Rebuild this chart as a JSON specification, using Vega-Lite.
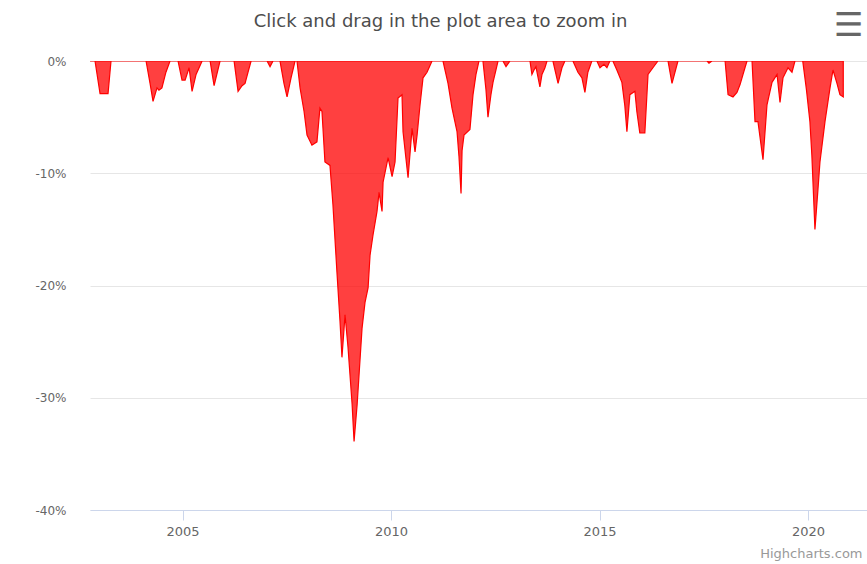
{
  "$schema": "https://vega.github.io/schema/vega-lite/v6.json",
  "width": 777,
  "height": 449,
  "autosize": {"type": "none"},
  "padding": {"left": 90, "right": 0, "top": 61, "bottom": 54},
  "background": "#ffffff",
  "title": {
    "text": "Click and drag in the plot area to zoom in",
    "font": "DejaVu Sans",
    "fontSize": 18,
    "fontWeight": "normal",
    "color": "#4d4d4d",
    "anchor": "middle",
    "baseline": "middle",
    "dx": -38,
    "offset": 0,
    "dy": 31
  },
  "config": {
    "view": {"stroke": null},
    "font": "DejaVu Sans"
  },
  "data": {
    "values": [
      {"date": "2002-10-13", "dd": 0},
      {"date": "2002-11-26", "dd": 0},
      {"date": "2003-01-09", "dd": -2.9},
      {"date": "2003-03-20", "dd": -2.9},
      {"date": "2003-04-15", "dd": 0},
      {"date": "2004-02-16", "dd": 0},
      {"date": "2004-03-22", "dd": -2.0},
      {"date": "2004-04-17", "dd": -3.6},
      {"date": "2004-05-22", "dd": -2.4},
      {"date": "2004-06-08", "dd": -2.6},
      {"date": "2004-07-04", "dd": -2.4},
      {"date": "2004-08-08", "dd": -1.0},
      {"date": "2004-09-13", "dd": 0},
      {"date": "2004-11-22", "dd": 0},
      {"date": "2004-12-27", "dd": -1.7},
      {"date": "2005-01-23", "dd": -1.7},
      {"date": "2005-02-27", "dd": -0.6},
      {"date": "2005-03-25", "dd": -2.7},
      {"date": "2005-04-29", "dd": -1.2},
      {"date": "2005-06-21", "dd": 0},
      {"date": "2005-08-30", "dd": 0},
      {"date": "2005-10-04", "dd": -2.2},
      {"date": "2005-11-25", "dd": 0},
      {"date": "2006-03-28", "dd": 0},
      {"date": "2006-05-02", "dd": -2.7},
      {"date": "2006-06-06", "dd": -2.2},
      {"date": "2006-07-02", "dd": -2.0},
      {"date": "2006-07-28", "dd": -1.0},
      {"date": "2006-08-24", "dd": 0},
      {"date": "2007-01-11", "dd": 0},
      {"date": "2007-02-06", "dd": -0.5},
      {"date": "2007-03-04", "dd": 0},
      {"date": "2007-05-04", "dd": 0},
      {"date": "2007-06-08", "dd": -2.0},
      {"date": "2007-07-05", "dd": -3.2},
      {"date": "2007-08-09", "dd": -1.5},
      {"date": "2007-09-13", "dd": 0},
      {"date": "2007-09-30", "dd": 0},
      {"date": "2007-10-27", "dd": -2.4},
      {"date": "2007-12-01", "dd": -4.5},
      {"date": "2007-12-27", "dd": -6.6},
      {"date": "2008-02-08", "dd": -7.5},
      {"date": "2008-03-23", "dd": -7.2},
      {"date": "2008-04-18", "dd": -4.2},
      {"date": "2008-05-06", "dd": -4.5},
      {"date": "2008-06-01", "dd": -9.0},
      {"date": "2008-07-15", "dd": -9.3},
      {"date": "2008-08-10", "dd": -12.8},
      {"date": "2008-09-14", "dd": -18.8},
      {"date": "2008-10-11", "dd": -23.2},
      {"date": "2008-10-28", "dd": -26.4},
      {"date": "2008-11-24", "dd": -22.6},
      {"date": "2008-12-20", "dd": -25.5},
      {"date": "2009-01-25", "dd": -30.6},
      {"date": "2009-02-11", "dd": -33.9},
      {"date": "2009-03-10", "dd": -30.6},
      {"date": "2009-04-22", "dd": -23.8},
      {"date": "2009-05-18", "dd": -21.5},
      {"date": "2009-06-14", "dd": -20.2},
      {"date": "2009-07-01", "dd": -17.3},
      {"date": "2009-07-27", "dd": -15.5},
      {"date": "2009-08-31", "dd": -13.4},
      {"date": "2009-09-18", "dd": -11.7},
      {"date": "2009-10-14", "dd": -13.4},
      {"date": "2009-10-23", "dd": -10.8},
      {"date": "2009-12-06", "dd": -8.6},
      {"date": "2010-01-10", "dd": -10.3},
      {"date": "2010-02-05", "dd": -9.0},
      {"date": "2010-03-03", "dd": -3.3},
      {"date": "2010-04-07", "dd": -3.0},
      {"date": "2010-04-16", "dd": -6.3},
      {"date": "2010-05-30", "dd": -10.4},
      {"date": "2010-07-04", "dd": -6.0},
      {"date": "2010-07-30", "dd": -8.1},
      {"date": "2010-08-17", "dd": -6.6},
      {"date": "2010-09-12", "dd": -3.9},
      {"date": "2010-10-08", "dd": -1.5},
      {"date": "2010-11-12", "dd": -1.0},
      {"date": "2010-12-26", "dd": 0},
      {"date": "2011-04-01", "dd": 0},
      {"date": "2011-05-15", "dd": -2.0},
      {"date": "2011-06-19", "dd": -4.2},
      {"date": "2011-08-02", "dd": -6.3},
      {"date": "2011-08-19", "dd": -8.5},
      {"date": "2011-09-06", "dd": -11.8},
      {"date": "2011-09-15", "dd": -8.0},
      {"date": "2011-10-02", "dd": -6.6},
      {"date": "2011-11-23", "dd": -6.1},
      {"date": "2011-12-20", "dd": -3.0},
      {"date": "2012-01-15", "dd": -1.2},
      {"date": "2012-02-10", "dd": 0},
      {"date": "2012-03-16", "dd": 0},
      {"date": "2012-04-11", "dd": -2.5},
      {"date": "2012-04-29", "dd": -5.0},
      {"date": "2012-05-25", "dd": -3.0},
      {"date": "2012-06-12", "dd": -1.9},
      {"date": "2012-07-08", "dd": -0.8},
      {"date": "2012-07-26", "dd": 0},
      {"date": "2012-09-07", "dd": 0},
      {"date": "2012-10-04", "dd": -0.5},
      {"date": "2012-11-08", "dd": 0},
      {"date": "2013-05-02", "dd": 0},
      {"date": "2013-05-19", "dd": -1.2},
      {"date": "2013-06-06", "dd": -0.8},
      {"date": "2013-06-23", "dd": -0.5},
      {"date": "2013-07-28", "dd": -2.3},
      {"date": "2013-08-15", "dd": -1.2},
      {"date": "2013-09-10", "dd": -0.6},
      {"date": "2013-09-28", "dd": 0},
      {"date": "2013-11-19", "dd": 0},
      {"date": "2014-01-03", "dd": -2.0},
      {"date": "2014-02-06", "dd": -0.6},
      {"date": "2014-03-04", "dd": 0},
      {"date": "2014-05-13", "dd": 0},
      {"date": "2014-06-26", "dd": -1.0},
      {"date": "2014-07-31", "dd": -1.5},
      {"date": "2014-08-26", "dd": -2.8},
      {"date": "2014-09-21", "dd": -1.0},
      {"date": "2014-10-26", "dd": 0},
      {"date": "2014-12-09", "dd": 0},
      {"date": "2015-01-05", "dd": -0.6},
      {"date": "2015-02-09", "dd": -0.3},
      {"date": "2015-03-07", "dd": -0.6},
      {"date": "2015-04-02", "dd": 0},
      {"date": "2015-04-28", "dd": 0},
      {"date": "2015-06-02", "dd": -0.8},
      {"date": "2015-07-16", "dd": -1.9},
      {"date": "2015-08-11", "dd": -4.0},
      {"date": "2015-08-29", "dd": -6.3},
      {"date": "2015-09-24", "dd": -3.0},
      {"date": "2015-11-07", "dd": -2.7},
      {"date": "2015-11-24", "dd": -4.5},
      {"date": "2015-12-20", "dd": -6.4},
      {"date": "2016-02-02", "dd": -6.4},
      {"date": "2016-03-01", "dd": -1.2},
      {"date": "2016-04-13", "dd": -0.6},
      {"date": "2016-05-27", "dd": 0},
      {"date": "2016-08-23", "dd": 0},
      {"date": "2016-09-27", "dd": -2.0},
      {"date": "2016-11-18", "dd": 0},
      {"date": "2017-07-31", "dd": 0},
      {"date": "2017-08-17", "dd": -0.2},
      {"date": "2017-09-12", "dd": 0},
      {"date": "2018-01-05", "dd": 0},
      {"date": "2018-01-31", "dd": -3.0},
      {"date": "2018-03-15", "dd": -3.2},
      {"date": "2018-04-19", "dd": -2.8},
      {"date": "2018-05-16", "dd": -2.1},
      {"date": "2018-06-28", "dd": -0.6},
      {"date": "2018-07-16", "dd": 0},
      {"date": "2018-08-29", "dd": 0},
      {"date": "2018-09-24", "dd": -5.4},
      {"date": "2018-10-20", "dd": -5.4},
      {"date": "2018-12-03", "dd": -8.8},
      {"date": "2019-01-07", "dd": -3.9},
      {"date": "2019-02-20", "dd": -1.9},
      {"date": "2019-04-05", "dd": -1.2},
      {"date": "2019-05-01", "dd": -3.7},
      {"date": "2019-05-27", "dd": -1.5},
      {"date": "2019-07-10", "dd": -0.6},
      {"date": "2019-08-14", "dd": -1.0},
      {"date": "2019-09-09", "dd": 0},
      {"date": "2019-11-16", "dd": 0},
      {"date": "2019-12-18", "dd": -2.5},
      {"date": "2020-01-18", "dd": -5.4},
      {"date": "2020-02-04", "dd": -8.4},
      {"date": "2020-03-02", "dd": -15.0},
      {"date": "2020-03-28", "dd": -11.5},
      {"date": "2020-04-15", "dd": -9.0},
      {"date": "2020-05-29", "dd": -5.4},
      {"date": "2020-07-12", "dd": -2.4},
      {"date": "2020-08-07", "dd": -0.8},
      {"date": "2020-09-11", "dd": -2.0},
      {"date": "2020-10-07", "dd": -3.0},
      {"date": "2020-11-05", "dd": -3.2}
    ]
  },
  "mark": {
    "type": "area",
    "color": "#ff0000",
    "fillOpacity": 0.75,
    "stroke": "#ff0000",
    "strokeWidth": 1.2,
    "interpolate": "linear",
    "clip": true
  },
  "encoding": {
    "x": {
      "field": "date",
      "type": "temporal",
      "scale": {"type": "utc", "domain": ["2002-10-13", "2021-06-01"], "nice": false},
      "axis": {
        "values": [
          {"year": 2005, "month": 1, "date": 1, "utc": true},
          {"year": 2010, "month": 1, "date": 1, "utc": true},
          {"year": 2015, "month": 1, "date": 1, "utc": true},
          {"year": 2020, "month": 1, "date": 1, "utc": true}
        ],
        "format": "%Y",
        "formatType": "utc",
        "grid": false,
        "domain": true,
        "domainColor": "#ccd6eb",
        "domainWidth": 1,
        "ticks": true,
        "tickColor": "#ccd6eb",
        "tickSize": 10,
        "labelPadding": 5,
        "labelFont": "DejaVu Sans",
        "labelFontSize": 13,
        "labelColor": "#666666",
        "title": "Highcharts.com",
        "titleFont": "DejaVu Sans",
        "titleFontSize": 13,
        "titleFontWeight": "normal",
        "titleColor": "#999999",
        "titleAlign": "right",
        "titleBaseline": "middle",
        "titleX": 772,
        "titleY": 43
      }
    },
    "y": {
      "field": "dd",
      "type": "quantitative",
      "scale": {"domain": [-40, 0], "nice": false, "zero": true},
      "axis": {
        "values": [0, -10, -20, -30, -40],
        "labelExpr": "datum.value + '%'",
        "grid": true,
        "gridColor": "#e6e6e6",
        "gridWidth": 1,
        "domain": false,
        "ticks": false,
        "labelPadding": 24,
        "labelFont": "DejaVu Sans",
        "labelFontSize": 12,
        "labelColor": "#666666",
        "title": "☰",
        "titleFont": "DejaVu Sans",
        "titleFontSize": 33,
        "titleFontWeight": "bold",
        "titleColor": "#666666",
        "titleAngle": 0,
        "titleAlign": "center",
        "titleBaseline": "middle",
        "titleX": 758,
        "titleY": -36
      }
    }
  }
}
